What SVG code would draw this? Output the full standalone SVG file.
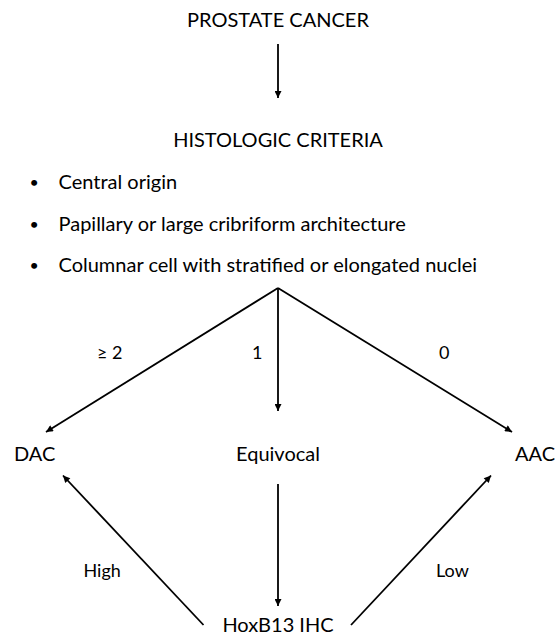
<svg xmlns="http://www.w3.org/2000/svg" width="557" height="635" viewBox="0 0 557 635">
<style>
text{font-family:Lato,"Open Sans","Liberation Sans",sans-serif;fill:#000}
.m{font-size:20px}
.l{font-size:18px}
.b{font-size:16px}
.c{text-anchor:middle}
.e{stroke:#000;stroke-width:1.8;fill:none;marker-end:url(#ah)}
</style>
<defs>
<marker id="ah" viewBox="0 0 10 10" refX="10" refY="5" markerWidth="9" markerHeight="7" markerUnits="userSpaceOnUse" orient="auto">
<path d="M0,0 L10,5 L0,10 z" fill="#000"/>
</marker>
</defs>
<rect width="557" height="635" fill="#fff"/>
<g id="connectors">
<line class="e" x1="278" y1="44" x2="278" y2="98"/>
<line class="e" x1="278" y1="288" x2="46" y2="432"/>
<line class="e" x1="278" y1="288" x2="278" y2="411"/>
<line class="e" x1="278" y1="288" x2="512" y2="432"/>
<line class="e" x1="278" y1="484" x2="278" y2="606"/>
<line class="e" x1="203.5" y1="625" x2="63" y2="475.5"/>
<line class="e" x1="351" y1="625" x2="491" y2="475.5"/>
<text class="l" x="97" y="359">≥ 2</text>
<text class="l" x="252" y="359">1</text>
<text class="l" x="439" y="359">0</text>
<text class="l" x="83.5" y="577">High</text>
<text class="l" x="436" y="577">Low</text>
</g>
<g id="prostate-cancer"><text class="m c" x="278" y="27">PROSTATE CANCER</text></g>
<g id="histologic-criteria">
<text class="m c" x="278" y="147">HISTOLOGIC CRITERIA</text>
<text class="b" x="29.5" y="188">•</text><text class="m" x="58.5" y="189">Central origin</text>
<text class="b" x="29.5" y="230">•</text><text class="m" x="58.5" y="231">Papillary or large cribriform architecture</text>
<text class="b" x="29.5" y="271">•</text><text class="m" x="58.5" y="272">Columnar cell with stratified or elongated nuclei</text>
</g>
<g id="dac"><text class="m" x="14" y="461">DAC</text></g>
<g id="equivocal"><text class="m c" x="278" y="461">Equivocal</text></g>
<g id="aac"><text class="m" x="555" y="461" text-anchor="end">AAC</text></g>
<g id="hoxb13"><text class="m c" x="278" y="632">HoxB13 IHC</text></g>
</svg>
